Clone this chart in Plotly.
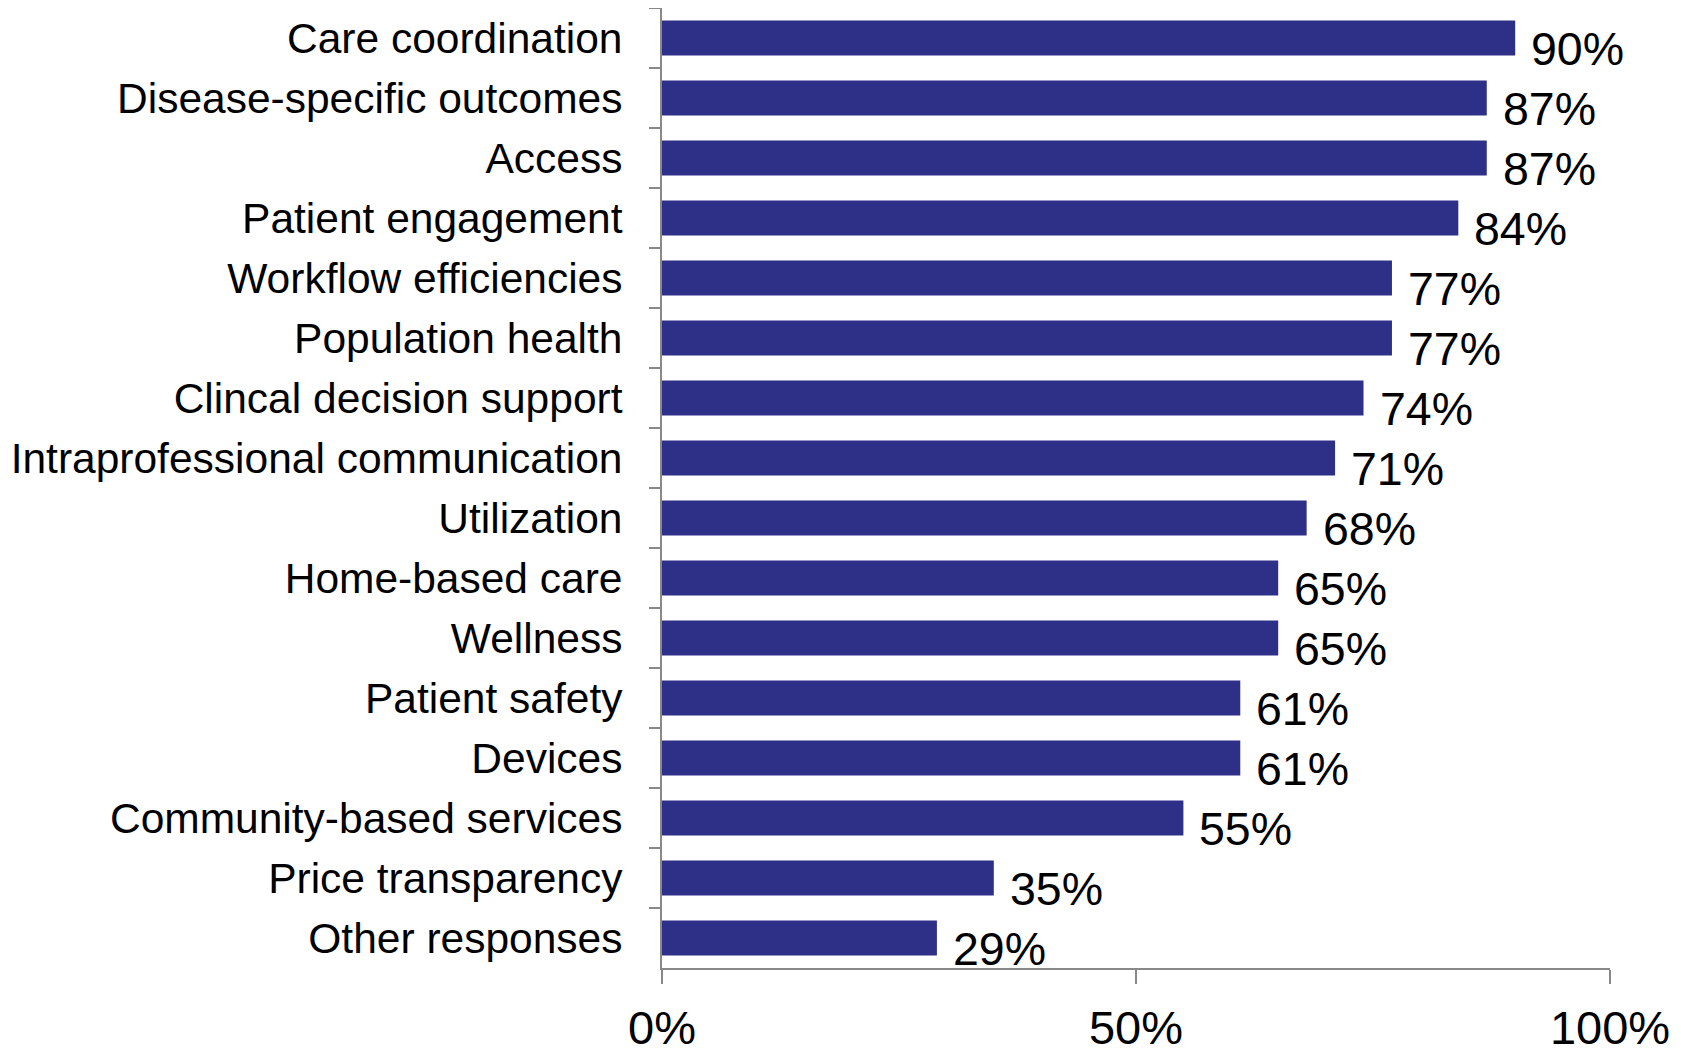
import plotly.graph_objects as go

categories = [
    "Care coordination",
    "Disease-specific outcomes",
    "Access",
    "Patient engagement",
    "Workflow efficiencies",
    "Population health",
    "Clincal decision support",
    "Intraprofessional communication",
    "Utilization",
    "Home-based care",
    "Wellness",
    "Patient safety",
    "Devices",
    "Community-based services",
    "Price transparency",
    "Other responses",
]
values = [90, 87, 87, 84, 77, 77, 74, 71, 68, 65, 65, 61, 61, 55, 35, 29]
x_tick_vals = [0, 50, 100]
x_tick_text = ["0%", "50%", "100%"]

BAR_COLOR = "#2E3088"
AXIS_COLOR = "#888888"
FONT = "Liberation Sans, Arial, sans-serif"

fig = go.Figure()
fig.add_trace(go.Bar(
    x=values,
    y=categories,
    orientation="h",
    marker=dict(color=BAR_COLOR, line=dict(width=0)),
    hoverinfo="skip",
))

for c, v in zip(categories, values):
    fig.add_annotation(
        x=v, y=c, text=f"{v}%", showarrow=False,
        xanchor="left", yanchor="middle",
        xshift=14, yshift=-11,
        font=dict(family=FONT, size=46.5, color="black"),
    )

fig.update_layout(
    width=1681, height=1052,
    margin=dict(l=654, r=79, t=0, b=92, pad=0),
    paper_bgcolor="white", plot_bgcolor="white",
    showlegend=False,
    bargap=0.42,
    font=dict(family=FONT, color="black"),
)
fig.update_xaxes(
    range=[0, 100],
    tickvals=x_tick_vals, ticktext=x_tick_text,
    ticks="outside", ticklen=14, tickwidth=2, tickcolor=AXIS_COLOR,
    showline=True, linecolor=AXIS_COLOR, linewidth=2,
    showgrid=False, zeroline=False,
    tickfont=dict(family=FONT, size=47, color="black"),
    ticklabelstandoff=4,
)
fig.update_yaxes(
    categoryorder="array", categoryarray=categories,
    range=[len(categories) - 0.5, -0.5],
    tickson="boundaries",
    ticks="outside", ticklen=11, tickwidth=2, tickcolor=AXIS_COLOR,
    showline=True, linecolor=AXIS_COLOR, linewidth=2,
    showgrid=False, zeroline=False,
    tickfont=dict(family=FONT, size=42.5, color="black"),
    ticklabelstandoff=29,
)

fig.write_html("out.html")
